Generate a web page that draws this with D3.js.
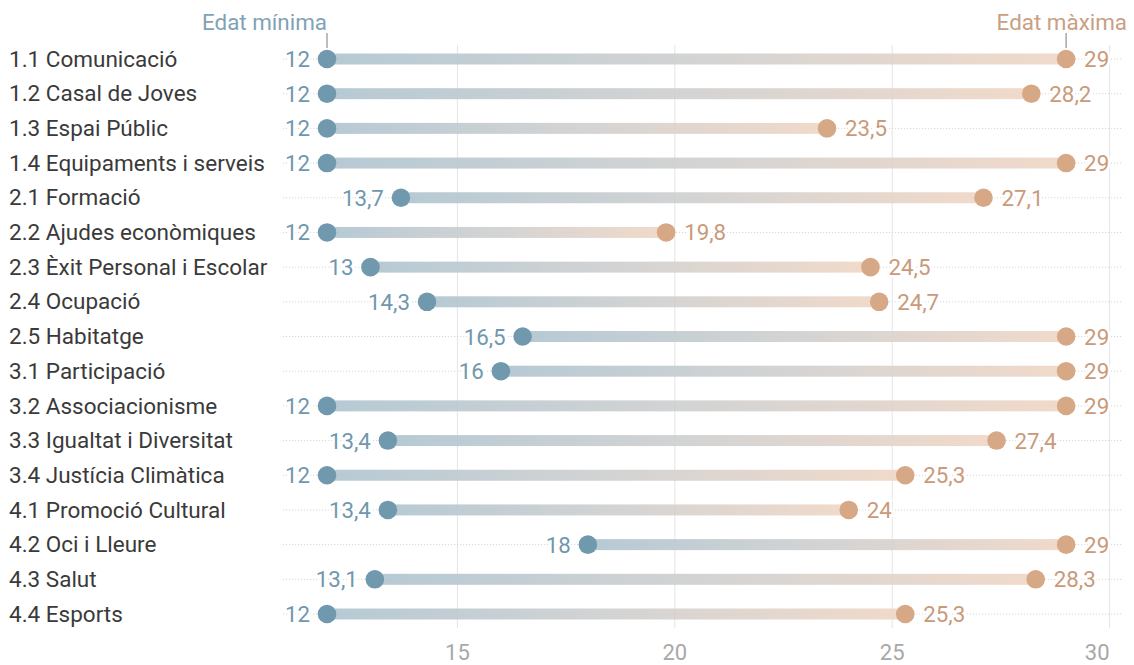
<!DOCTYPE html>
<html>
<head>
<meta charset="utf-8">
<script src="https://cdn.jsdelivr.net/npm/d3@7"></script>
<style>
  html, body { margin: 0; padding: 0; background: #fff; }
  svg { display: block; font-family: Roboto, "Noto Sans", sans-serif; }
</style>
</head>
<body>
<svg id="chart" width="1134" height="665"></svg>
<script>
const categories = [
  "1.1 Comunicació", "1.2 Casal de Joves", "1.3 Espai Públic", "1.4 Equipaments i serveis",
  "2.1 Formació", "2.2 Ajudes econòmiques", "2.3 Èxit Personal i Escolar", "2.4 Ocupació",
  "2.5 Habitatge", "3.1 Participació", "3.2 Associacionisme", "3.3 Igualtat i Diversitat",
  "3.4 Justícia Climàtica", "4.1 Promoció Cultural", "4.2 Oci i Lleure", "4.3 Salut", "4.4 Esports"
];
const minAge = [12, 12, 12, 12, 13.7, 12, 13, 14.3, 16.5, 16, 12, 13.4, 12, 13.4, 18, 13.1, 12];
const maxAge = [29, 28.2, 23.5, 29, 27.1, 19.8, 24.5, 24.7, 29, 29, 29, 27.4, 25.3, 24, 29, 28.3, 25.3];
const xTicks = [15, 20, 25, 30];
const minLabel = "Edat mínima";
const maxLabel = "Edat màxima";

const svg = d3.select("#chart");

const x = d3.scaleLinear().domain([12, 30]).range([327, 1109.6]);
const y = d3.scalePoint().domain(categories).range([59, 614]);

const fmt = v => String(v).replace(".", ",");

const blue = "#7199ae", blueText = "#6f97ad", blueTitle = "#7fa3b6";
const peach = "#d7a886", peachText = "#c99a7a";

// gradient
const defs = svg.append("defs");
const grad = defs.append("linearGradient").attr("id", "barGrad")
  .attr("x1", "0%").attr("x2", "100%").attr("y1", "0%").attr("y2", "0%");
grad.append("stop").attr("offset", "0%").attr("stop-color", "#aec4cf");
grad.append("stop").attr("offset", "50%").attr("stop-color", "#cfcfcf");
grad.append("stop").attr("offset", "100%").attr("stop-color", "#efd6c4");

// gridlines
svg.append("g").selectAll("line").data(xTicks).join("line")
  .attr("x1", d => x(d)).attr("x2", d => x(d))
  .attr("y1", 45).attr("y2", 628)
  .attr("stroke", "#e4e4e4").attr("stroke-width", 1);

// axis labels
svg.append("g").selectAll("text").data(xTicks).join("text")
  .attr("x", (d, i) => x(d))
  .attr("y", 660)
  .attr("text-anchor", (d, i) => i === xTicks.length - 1 ? "end" : "middle")
  .attr("font-size", 22)
  .attr("fill", "#a8a8a8")
  .text(d => d);

// dotted row lines
svg.append("g").selectAll("line").data(categories).join("line")
  .attr("x1", 283).attr("x2", 1122)
  .attr("y1", d => y(d)).attr("y2", d => y(d))
  .attr("stroke", "#d6d6d6").attr("stroke-width", 1)
  .attr("stroke-dasharray", "1.2,1.8");

// category labels
svg.append("g").selectAll("text").data(categories).join("text")
  .attr("x", 9).attr("y", d => y(d)).attr("dy", "0.34em")
  .attr("font-size", 22.5).attr("fill", "#3a3a3a")
  .text(d => d);

const rows = categories.map((c, i) => ({ c, lo: minAge[i], hi: maxAge[i] }));

// bars
svg.append("g").selectAll("rect").data(rows).join("rect")
  .attr("x", d => x(d.lo)).attr("width", d => x(d.hi) - x(d.lo))
  .attr("y", d => y(d.c) - 5.5).attr("height", 11)
  .attr("fill", "url(#barGrad)").attr("opacity", 0.9);

// dots
svg.append("g").selectAll("circle").data(rows).join("circle")
  .attr("cx", d => x(d.lo)).attr("cy", d => y(d.c)).attr("r", 9.3).attr("fill", blue);
svg.append("g").selectAll("circle").data(rows).join("circle")
  .attr("cx", d => x(d.hi)).attr("cy", d => y(d.c)).attr("r", 9.3).attr("fill", peach);

// value labels
svg.append("g").selectAll("text").data(rows).join("text")
  .attr("x", d => x(d.lo) - 17).attr("y", d => y(d.c)).attr("dy", "0.36em")
  .attr("text-anchor", "end").attr("font-size", 22.3).attr("fill", blueText)
  .attr("stroke", "#fff").attr("stroke-width", 5).attr("paint-order", "stroke")
  .text(d => fmt(d.lo));
svg.append("g").selectAll("text").data(rows).join("text")
  .attr("x", d => x(d.hi) + 18).attr("y", d => y(d.c)).attr("dy", "0.36em")
  .attr("text-anchor", "start").attr("font-size", 22.3).attr("fill", peachText)
  .attr("stroke", "#fff").attr("stroke-width", 5).attr("paint-order", "stroke")
  .text(d => fmt(d.hi));

// top annotations
const firstRow = rows[0];
svg.append("line").attr("x1", x(firstRow.lo)).attr("x2", x(firstRow.lo))
  .attr("y1", 33).attr("y2", 48).attr("stroke", "#9a9a9a").attr("stroke-width", 1.3);
svg.append("text").attr("x", x(firstRow.lo)).attr("y", 30)
  .attr("text-anchor", "end").attr("font-size", 22.4).attr("fill", blueTitle)
  .text(minLabel);
svg.append("line").attr("x1", x(firstRow.hi)).attr("x2", x(firstRow.hi))
  .attr("y1", 33).attr("y2", 48).attr("stroke", "#9a9a9a").attr("stroke-width", 1.3);
svg.append("text").attr("x", 1127).attr("y", 30)
  .attr("text-anchor", "end").attr("font-size", 22.4).attr("fill", "#c9a083")
  .text(maxLabel);
</script>
</body>
</html>
